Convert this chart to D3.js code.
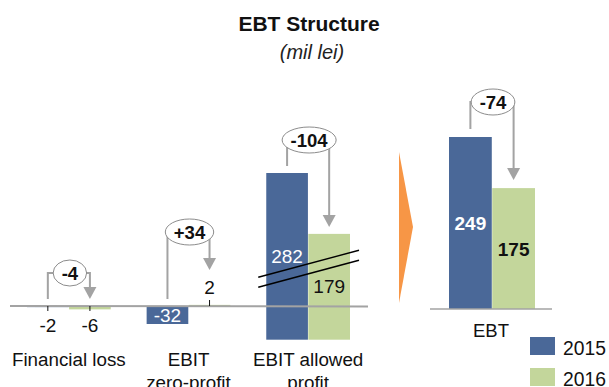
<!DOCTYPE html>
<html>
<head>
<meta charset="utf-8">
<script src="https://d3js.org/d3.v7.min.js"></script>
<style>
  body { margin: 0; background: #ffffff; }
  svg { display: block; font-family: "Liberation Sans", Arial, sans-serif; }
</style>
</head>
<body>
<div id="chart"></div>
<script>
// data
const categories = ["Financial loss", "EBIT\nzero-profit", "EBIT allowed\nprofit"];
const years = ["2015", "2016"];
const values2015 = [-2, -32, 282];
const values2016 = [-6, 2, 179];
const deltaLabels = ["-4", "+34", "-104"];

const ebtCategories = ["EBT"];
const ebt2015 = [249];
const ebt2016 = [175];
const ebtDeltaLabels = ["-74"];

const width = 609, height = 387;
const blue = "#4a6898", green = "#c3d69b", grey = "#a3a3a3";

const svg = d3.select("#chart").append("svg")
    .attr("width", width)
    .attr("height", height);

// title
svg.append("text").attr("x", 309).attr("y", 31)
    .attr("text-anchor", "middle").attr("font-size", 21).attr("font-weight", "bold")
    .attr("fill", "#111").text("EBT Structure");
svg.append("text").attr("x", 312).attr("y", 59)
    .attr("text-anchor", "middle").attr("font-size", 20).attr("font-style", "italic")
    .attr("fill", "#222").text("(mil lei)");

// scales
const xL = d3.scaleBand().domain(categories).range([27, 350]).paddingInner(0.3);
const xYearL = d3.scaleBand().domain(years).range([0, xL.bandwidth()]).paddingInner(0.01);
const xR = d3.scaleBand().domain(ebtCategories).range([449, 535]);
const xYearR = d3.scaleBand().domain(years).range([0, xR.bandwidth()]).paddingInner(0.01);

const ySmall = d3.scaleLinear().domain([-32, 0]).range([324, 306]);
const yBreak = d3.scaleLinear().domain([57, 282]).range([306, 173]); // broken axis
const yR = d3.scaleLinear().domain([0, 249]).range([309, 137]);
const yLeft = i => (i === 2 ? yBreak : ySmall);

const leftBars = categories.flatMap((c, i) => years.map((yr, j) => ({
    c, i, yr, v: j ? values2016[i] : values2015[i], y: yLeft(i)
})));
const rightBars = ebtCategories.flatMap((c, i) => years.map((yr, j) => ({
    c, i, yr, v: j ? ebt2016[i] : ebt2015[i], y: yR
})));

const axisY = ySmall(0);

function barX(d, xs, xy) { return xs(d.c) + xy(d.yr); }
function barTop(d) { return Math.min(d.y(d.v), d.y(0)); }
function barH(d) { return Math.abs(d.y(d.v) - d.y(0)); }

svg.append("g").selectAll("rect").data(leftBars).join("rect")
    .attr("x", d => barX(d, xL, xYearL))
    .attr("y", barTop)
    .attr("width", xYearL.bandwidth())
    .attr("height", barH)
    .attr("fill", d => d.yr === "2015" ? blue : green);

svg.append("g").selectAll("rect").data(rightBars).join("rect")
    .attr("x", d => barX(d, xR, xYearR))
    .attr("y", barTop)
    .attr("width", xYearR.bandwidth())
    .attr("height", barH)
    .attr("fill", d => d.yr === "2015" ? blue : green);

// axis lines, drawn over the bars
svg.append("line").attr("x1", 10).attr("x2", 368).attr("y1", axisY).attr("y2", axisY + 0.5)
    .attr("stroke", grey).attr("stroke-width", 2);
svg.append("line").attr("x1", 430).attr("x2", 552).attr("y1", yR(0)).attr("y2", yR(0))
    .attr("stroke", grey).attr("stroke-width", 1.5);

// value labels, left
leftBars.forEach(d => {
    const cx = barX(d, xL, xYearL) + xYearL.bandwidth() / 2;
    const small = barH(d) < 10;
    let ly;
    if (!small) ly = barTop(d) + barH(d) / 2 + 6.5;
    else if (d.v < 0) ly = axisY + 26;
    else ly = axisY - 12;
    if (small) {
        svg.append("line").attr("x1", cx).attr("x2", cx)
            .attr("y1", axisY).attr("y2", d.v < 0 ? axisY + 5 : axisY - 6)
            .attr("stroke", "#111").attr("stroke-width", 1);
    }
    svg.append("text").attr("x", cx).attr("y", ly)
        .attr("text-anchor", "middle").attr("font-size", 19)
        .attr("fill", small || d.yr === "2016" ? "#111" : "#fff")
        .text(d.v);
});

// value labels, right
rightBars.forEach(d => {
    const cx = barX(d, xR, xYearR) + xYearR.bandwidth() / 2;
    svg.append("text").attr("x", cx).attr("y", barTop(d) + barH(d) / 2 + 7)
        .attr("text-anchor", "middle").attr("font-size", 19).attr("font-weight", "bold")
        .attr("fill", d.yr === "2016" ? "#111" : "#fff")
        .text(d.v);
});

// break marks on the EBIT allowed profit group
{
    const gx = xL(categories[2]);
    const x0 = gx - 8, x1 = gx + xL.bandwidth() + 9;
    const yc = yBreak(120);
    [-5, 5].forEach(off => {
        svg.append("line").attr("x1", x0).attr("x2", x1)
            .attr("y1", yc + off + 13.5).attr("y2", yc + off - 13.5)
            .attr("stroke", "#000").attr("stroke-width", 1.4);
    });
}

// bridge bubbles
function bridge(xl, startY, xr, tipY, label, lift) {
    const cy = Math.min(startY, tipY) - lift;
    const cx = (xl + xr) / 2 + 1;
    const t = svg.append("text").attr("x", cx).attr("y", cy + 6.5)
        .attr("text-anchor", "middle").attr("font-size", 18.5).attr("font-weight", "bold")
        .attr("fill", "#111").text(label);
    const tw = t.node().getComputedTextLength();
    const rx = Math.max(14, tw / 2 + 8.5), ry = 13;
    const g = svg.insert("g", "text:last-of-type");
    g.append("path")
        .attr("d", `M${xl},${startY}V${cy}H${cx}`)
        .attr("fill", "none").attr("stroke", grey).attr("stroke-width", 2);
    g.append("path")
        .attr("d", `M${cx},${cy}H${xr}V${tipY - 11}`)
        .attr("fill", "none").attr("stroke", grey).attr("stroke-width", 2);
    g.append("path")
        .attr("d", `M${xr - 6.5},${tipY - 12}L${xr + 6.5},${tipY - 12}L${xr},${tipY}Z`)
        .attr("fill", grey);
    g.append("ellipse").attr("cx", cx).attr("cy", cy).attr("rx", rx).attr("ry", ry)
        .attr("fill", "#fff").attr("stroke", "#8c8c8c").attr("stroke-width", 1);
}

const lifts = [26, 38, 26];
categories.forEach((c, i) => {
    const b15 = leftBars[i * 2], b16 = leftBars[i * 2 + 1];
    const xl = barX(b15, xL, xYearL) + xYearL.bandwidth() / 2;
    const xr = barX(b16, xL, xYearL) + xYearL.bandwidth() / 2;
    const startY = barTop(b15) - 7;
    let tipY = barTop(b16) - 7;
    if (barH(b16) < 10 && b16.v > 0) tipY = axisY - 36; // label sits above the axis
    bridge(xl, startY, xr, tipY, deltaLabels[i], lifts[i]);
});
ebtCategories.forEach((c, i) => {
    const b15 = rightBars[i * 2], b16 = rightBars[i * 2 + 1];
    const xl = barX(b15, xR, xYearR) + xYearR.bandwidth() / 2;
    const xr = barX(b16, xR, xYearR) + xYearR.bandwidth() / 2;
    bridge(xl, barTop(b15) - 8, xr, barTop(b16) - 8, ebtDeltaLabels[i], 27);
});

// orange chevron between the panels
svg.append("path").attr("d", "M399,152L413,227L399,303Z").attr("fill", "#f79646");

// category labels
categories.forEach(c => {
    const lines = c.split("\n");
    const t = svg.append("text").attr("text-anchor", "middle").attr("font-size", 18.8).attr("fill", "#111");
    lines.forEach((ln, k) => {
        t.append("tspan").attr("x", xL(c) + xL.bandwidth() / 2).attr("y", 366 + k * 23).text(ln);
    });
});
ebtCategories.forEach(c => {
    svg.append("text").attr("x", xR(c) + xR.bandwidth() / 2 - 1).attr("y", 337)
        .attr("text-anchor", "middle").attr("font-size", 18.5).attr("fill", "#111").text(c);
});

// legend
years.forEach((yr, k) => {
    const y = 337 + k * 31;
    svg.append("rect").attr("x", 530).attr("y", y).attr("width", 25).attr("height", 18)
        .attr("fill", k ? green : blue);
    svg.append("text").attr("x", 563).attr("y", y + 18).attr("font-size", 19.3)
        .attr("fill", "#111").text(yr);
});
</script>
</body>
</html>
